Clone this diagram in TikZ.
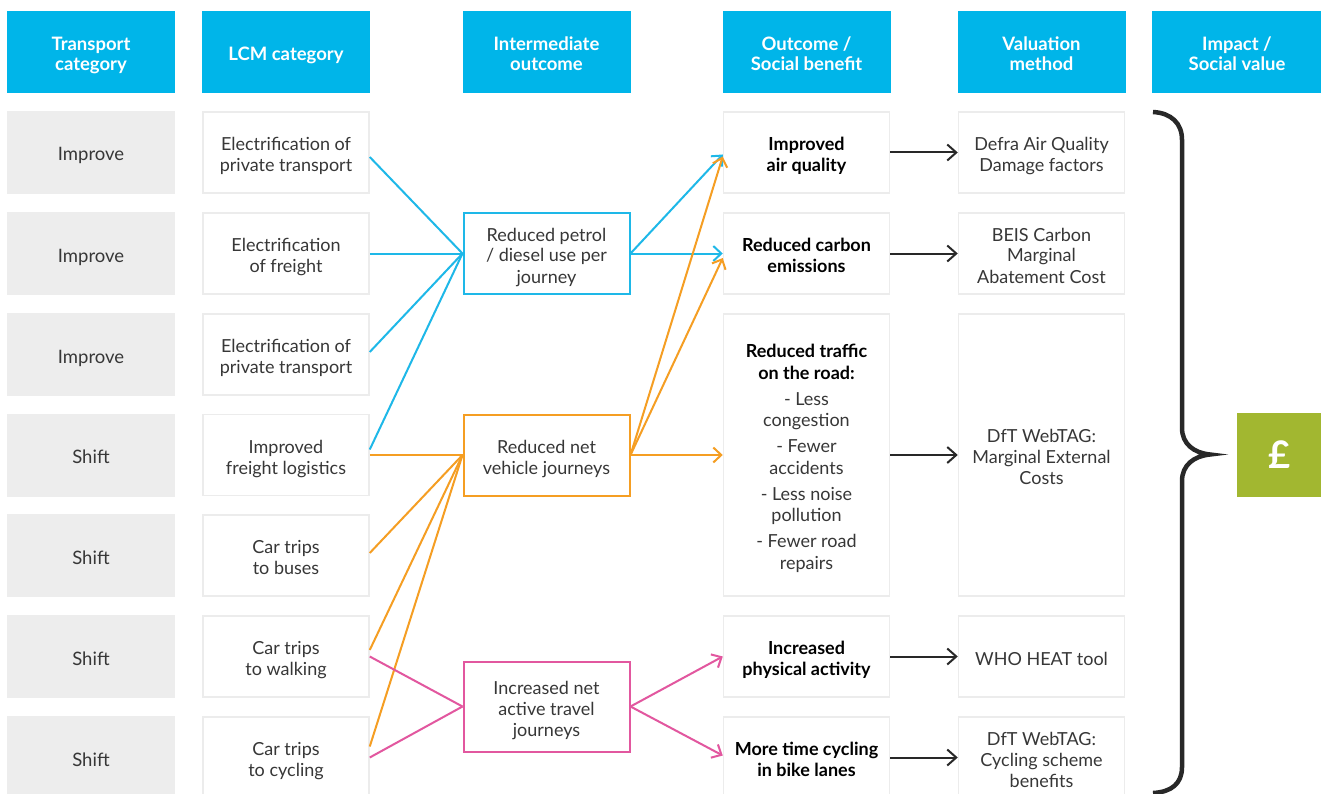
\documentclass[tikz,border=0pt]{standalone}
\usepackage{fontspec}
\setmainfont{Lato}
\usetikzlibrary{arrows.meta}
\definecolor{hdrblue}{RGB}{0,181,233}
\definecolor{graybox}{RGB}{237,237,237}
\definecolor{boxline}{RGB}{236,236,236}
\definecolor{txt}{RGB}{55,55,55}
\definecolor{lblue}{RGB}{30,184,232}
\definecolor{lorange}{RGB}{245,158,35}
\definecolor{lpink}{RGB}{226,87,159}
\definecolor{pgreen}{RGB}{162,183,48}
\definecolor{dark}{RGB}{40,40,40}
\newcommand\bst{\rule[-5pt]{0pt}{27pt}}
\begin{document}
\begin{tikzpicture}[x=1pt,y=-1pt,
  stx/.style={execute at begin node=\bst,execute at end node=\bst},
  hdr/.style={stx,fill=hdrblue,text=white,font=\bfseries\fontsize{18.5}{20.5}\selectfont,minimum width=168pt,minimum height=82pt,align=center,inner sep=0pt},
  tcat/.style={stx,fill=graybox,text=txt,font=\fontsize{18.5}{21}\selectfont,minimum width=168pt,minimum height=83pt,inner sep=0pt},
  wbox/.style={stx,draw=boxline,line width=1.5pt,fill=white,text=txt,font=\fontsize{18}{21}\selectfont,minimum width=166pt,minimum height=81pt,align=center,inner sep=0pt},
  obox/.style={wbox,text=black,font=\bfseries\fontsize{18}{21}\selectfont},
  ibox/.style={stx,draw=#1,line width=2pt,fill=white,text=txt,font=\fontsize{18}{21}\selectfont,minimum width=166pt,minimum height=81pt,align=center,inner sep=0pt},
  bl/.style={draw=lblue,line width=2pt},
  ol/.style={draw=lorange,line width=2pt},
  pl/.style={draw=lpink,line width=2pt},
  tip/.style={-{Straight Barb[length=8pt,width=15pt,line width=2pt]}},
  blk/.style={draw=dark,line width=2pt,-{Straight Barb[length=9pt,width=16pt,line width=2pt]}},
]
\clip (0,0) rectangle (1321,794);
\fill[white] (0,0) rectangle (1321,794);

% headers
\node[hdr] (h1) at (91,52) {\bst Transport\\category};
\node[hdr] (h2) at (286,52) {LCM category};
\node[hdr] (h3) at (546.5,52) {\bst Intermediate\\outcome};
\node[hdr] (h4) at (806.5,52) {\bst Outcome /\\Social benefit};
\node[hdr] (h5) at (1041.5,52) {\bst Valuation\\method};
\node[hdr,minimum width=170pt] (h6) at (1237,52) {\bst Impact /\\Social value};

% transport category
\node[tcat] (t1) at (91,152.5) {Improve};
\node[tcat] (t2) at (91,253.5) {Improve};
\node[tcat] (t3) at (91,354.5) {Improve};
\node[tcat] (t4) at (91,455) {Shift};
\node[tcat] (t5) at (91,555.5) {Shift};
\node[tcat] (t6) at (91,656.5) {Shift};
\node[tcat] (t7) at (91,757.5) {Shift};

% LCM category
\node[wbox] (l1) at (286,152.5) {\bst Electrification of\\private transport};
\node[wbox] (l2) at (286,253.5) {\bst Electrification\\of freight};
\node[wbox] (l3) at (286,354.5) {\bst Electrification of\\private transport};
\node[wbox] (l4) at (286,455) {\bst Improved\\freight logistics};
\node[wbox] (l5) at (286,555.5) {\bst Car trips\\to buses};
\node[wbox] (l6) at (286,656.5) {\bst Car trips\\to walking};
\node[wbox] (l7) at (286,757.5) {\bst Car trips\\to cycling};

% intermediate
\node[ibox=lblue] (i1) at (546.5,253.5) {\bst Reduced petrol\\/ diesel use per\\journey};
\node[ibox=lorange] (i2) at (546.5,455) {\bst Reduced net\\vehicle journeys};
\node[ibox=lpink,minimum height=90pt] (i3) at (546.5,706.5) {\bst Increased net\\active travel\\journeys};

% outcomes
\node[obox] (o1) at (806.5,152.5) {\bst Improved\\air quality};
\node[obox] (o2) at (806.5,253.5) {\bst Reduced carbon\\emissions};
\node[obox,minimum height=282pt,font=\bfseries\fontsize{18}{21.5}\selectfont] (o3) at (806.5,455) {\bst Reduced traffic\\on the road:\\[4.5pt]
  {\mdseries\color{txt}- Less}\\{\mdseries\color{txt}congestion}\\[4.5pt]
  {\mdseries\color{txt}- Fewer}\\{\mdseries\color{txt}accidents}\\[4.5pt]
  {\mdseries\color{txt}- Less noise}\\{\mdseries\color{txt}pollution}\\[4.5pt]
  {\mdseries\color{txt}- Fewer road}\\{\mdseries\color{txt}repairs}};
\node[obox] (o4) at (806.5,656.5) {\bst Increased\\physical activity};
\node[obox] (o5) at (806.5,757.5) {\bst More time cycling\\in bike lanes};

% valuation
\node[wbox] (v1) at (1041.5,152.5) {\bst Defra Air Quality\\Damage factors};
\node[wbox] (v2) at (1041.5,253.5) {\bst BEIS Carbon\\Marginal\\Abatement Cost};
\node[wbox,minimum height=282pt] (v3) at (1041.5,455) {\bst DfT WebTAG:\\Marginal External\\Costs};
\node[wbox] (v4) at (1041.5,656.5) {WHO HEAT tool};
\node[wbox] (v5) at (1041.5,757.5) {\bst DfT WebTAG:\\Cycling scheme\\benefits};

% pound box
\node[fill=pgreen,text=white,font=\bfseries\fontsize{38}{40}\selectfont,minimum width=84pt,minimum height=84pt,inner sep=0pt] (gbp) at (1279,455) {£};

% blue connectors
\draw[bl] ([yshift=-4.5pt]l1.east) -- (i1.west);
\draw[bl] (l2.east) -- (i1.west);
\draw[bl] ([yshift=2.5pt]l3.east) -- (i1.west);
\draw[bl] ([yshift=5.5pt]l4.east) -- (i1.west);
\draw[bl,tip] (i1.east) -- ([yshift=-2pt]o1.west);
\draw[bl,tip] (i1.east) -- (o2.west);

% orange connectors
\draw[ol] (l4.east) -- (i2.west);
\draw[ol] ([yshift=2.5pt]l5.east) -- (i2.west);
\draw[ol] ([yshift=6.5pt]l6.east) -- (i2.west);
\draw[ol] ([yshift=11pt]l7.east) -- (i2.west);
\draw[ol,tip] (i2.east) -- ([yshift=-4pt]o1.west);
\draw[ol,tip] (i2.east) -- ([yshift=-4.5pt]o2.west);
\draw[ol,tip] (i2.east) -- (o3.west);

% pink connectors
\draw[pl] (l6.east) -- (i3.west);
\draw[pl] (l7.east) -- (i3.west);
\draw[pl,tip] (i3.east) -- (o4.west);
\draw[pl,tip] (i3.east) -- ([yshift=2pt]o5.west);

% black arrows
\draw[blk] (o1.east) -- (v1.west);
\draw[blk] (o2.east) -- (v2.west);
\draw[blk] (o3.east) -- (v3.west);
\draw[blk] (o4.east) -- (v4.west);
\draw[blk] (o5.east) -- (v5.west);

% brace
\draw[dark,line width=4.5pt] (1153,112) .. controls (1171,113) and (1182,123) .. (1182,140) -- (1182,428)
  .. controls (1182,444) and (1194,453) .. (1210,454.5)
  .. controls (1194,456) and (1182,465) .. (1182,481) -- (1182,767)
  .. controls (1182,784) and (1171,792) .. (1153,793);
\end{tikzpicture}
\end{document}
